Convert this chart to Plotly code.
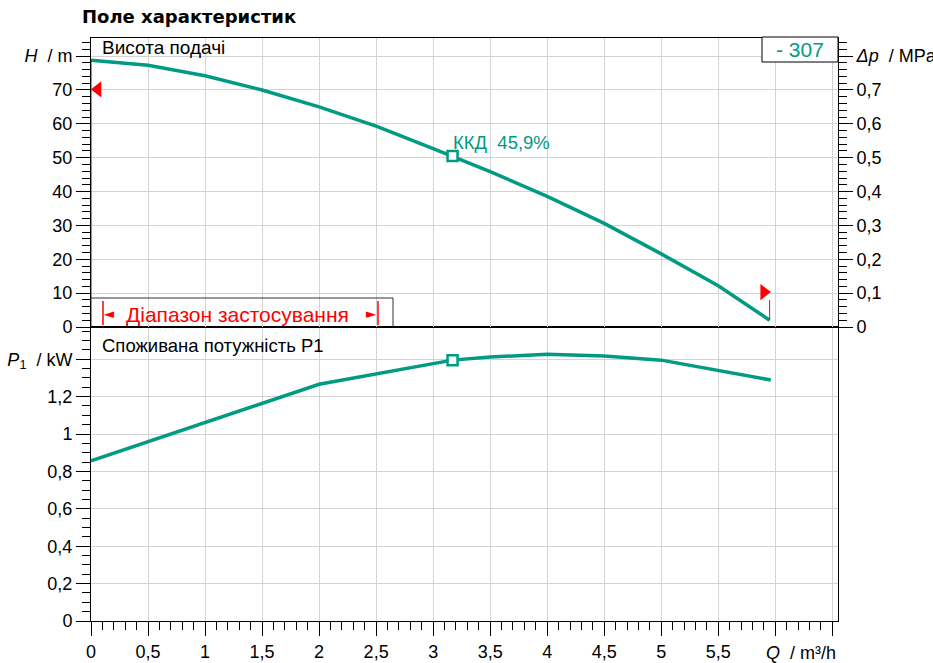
import plotly.graph_objects as go

# ---------------- data ----------------
q_head = [0, 0.5, 1, 1.5, 2, 2.5, 3, 3.5, 4, 4.5, 5, 5.5, 5.95]
head_m = [78.8, 77.3, 74.2, 70.0, 65.0, 59.3, 52.7, 45.9, 38.6, 30.6, 21.6, 12.2, 2.0]

q_power = [0, 2, 3.17, 3.5, 4, 4.5, 5, 5.96]
power_kw = [0.857, 1.266, 1.395, 1.412, 1.426, 1.417, 1.395, 1.289]

q_eff = [3.17]
head_eff = [50.5]
power_eff = [1.395]
eff_label = "ККД\u00a0 45,9%"

limit_left_q = [0.06]
limit_left_h = [70.2]
limit_right_q = [5.9]
limit_right_h = [10.3]
q_max = 5.95

x_tickvals = [0, 0.5, 1, 1.5, 2, 2.5, 3, 3.5, 4, 4.5, 5, 5.5, 6, 6.5]
x_ticktext = ["0", "0,5", "1", "1,5", "2", "2,5", "3", "3,5", "4", "4,5", "5", "5,5", "", ""]
h_tickvals = [0, 10, 20, 30, 40, 50, 60, 70, 80]
h_ticktext = ["0", "10", "20", "30", "40", "50", "60", "70", "<i>H</i>  / m"]
dp_tickvals = [0, 0.1, 0.2, 0.3, 0.4, 0.5, 0.6, 0.7, 0.8]
dp_ticktext = ["0", "0,1", "0,2", "0,3", "0,4", "0,5", "0,6", "0,7", "<i>Δp</i>  / MPa"]
p_tickvals = [0, 0.2, 0.4, 0.6, 0.8, 1.0, 1.2, 1.4]
p_ticktext = ["0", "0,2", "0,4", "0,6", "0,8", "1", "1,2", "<i>P</i><sub>1</sub>  / kW"]

title_text = "Поле характеристик"
head_label = "Висота подачі"
power_label = "Споживана потужність P1"
pump_label = "- 307"
range_label = "Діапазон застосування"

# ---------------- style ----------------
TEAL = "#009b82"
RED = "#ff0000"
GRID = "#d3d3d3"
FONT = "Arial, Liberation Sans, sans-serif"

W, H = 933, 663
L, R, T, B = 91, 95, 38, 42
split_px = 327
plot_h = H - T - B
split = (H - B - split_px) / plot_h

fig = go.Figure()

fig.add_trace(go.Scatter(x=q_head, y=head_m, xaxis="x2", yaxis="y", mode="lines",
                         line=dict(color=TEAL, width=3.5), hoverinfo="skip"))
fig.add_trace(go.Scatter(x=q_power, y=power_kw, xaxis="x", yaxis="y3", mode="lines",
                         line=dict(color=TEAL, width=3.5), hoverinfo="skip"))
# invisible trace for the right axis
fig.add_trace(go.Scatter(x=[0], y=[0], xaxis="x2", yaxis="y2", mode="markers",
                         marker=dict(opacity=0), hoverinfo="skip"))

# range-limit marks
fig.add_trace(go.Scatter(x=[0, 0], y=[0, head_m[0]], xaxis="x2", yaxis="y", mode="lines",
                         line=dict(color="#a00000", width=1), hoverinfo="skip"))
fig.add_trace(go.Scatter(x=[q_max, q_max], y=[head_m[-1], 8], xaxis="x2", yaxis="y", mode="lines",
                         line=dict(color=RED, width=1), hoverinfo="skip"))
fig.add_trace(go.Scatter(x=limit_left_q, y=limit_left_h, xaxis="x2", yaxis="y", mode="markers",
                         marker=dict(symbol="triangle-left", size=14, color=RED), hoverinfo="skip"))
fig.add_trace(go.Scatter(x=limit_right_q, y=limit_right_h, xaxis="x2", yaxis="y", mode="markers",
                         marker=dict(symbol="triangle-right", size=14, color=RED), hoverinfo="skip"))

# efficiency point markers
fig.add_trace(go.Scatter(x=q_eff, y=head_eff, xaxis="x2", yaxis="y", mode="markers",
                         marker=dict(symbol="square", size=10, color="white",
                                     line=dict(color=TEAL, width=2.5)), hoverinfo="skip"))
fig.add_trace(go.Scatter(x=q_eff, y=power_eff, xaxis="x", yaxis="y3", mode="markers",
                         marker=dict(symbol="square", size=10, color="white",
                                     line=dict(color=TEAL, width=2.5)), hoverinfo="skip"))

xr = [0, (W - L - R) / 114.05]
h_top = (split_px - T) / 3.386
p_top = (H - B - split_px) / 187.0

tickfont = dict(family=FONT, size=18, color="black")

def xaxis_common(mirror):
    return dict(range=xr, domain=[0, 1], tickmode="array", tickvals=x_tickvals,
                showgrid=True, gridcolor=GRID, gridwidth=1, zeroline=False, automargin=False,
                showline=True, linecolor="black", linewidth=1, mirror=mirror)

fig.update_layout(
    width=W, height=H, margin=dict(l=L, r=R, t=T, b=B, pad=0, autoexpand=False),
    paper_bgcolor="white", plot_bgcolor="white", showlegend=False,
    font=dict(family=FONT, size=18, color="black"),
    xaxis=dict(**xaxis_common(True), anchor="y3", ticktext=x_ticktext, ticks="outside",
               ticklen=14, tickcolor="black", tickfont=tickfont,
               minor=dict(tickmode="linear", tick0=0, dtick=0.1, ticks="outside",
                          ticklen=8, tickcolor="black", showgrid=False)),
    xaxis2=dict(**xaxis_common(True), anchor="y", matches="x", showticklabels=False, ticks=""),
    yaxis=dict(domain=[split, 1], anchor="x2", range=[0, h_top], tickmode="array",
               tickvals=h_tickvals, ticktext=h_ticktext, ticks="outside", ticklen=14,
               tickcolor="black", tickfont=tickfont, showgrid=True, gridcolor=GRID,
               zeroline=False, showline=True, linecolor="black", linewidth=1, automargin=False,
               minor=dict(tickmode="linear", tick0=0, dtick=2, ticks="outside",
                          ticklen=8, tickcolor="black", showgrid=False)),
    yaxis2=dict(overlaying="y", side="right", anchor="x2", range=[0, h_top / 100],
                tickmode="array", tickvals=dp_tickvals, ticktext=dp_ticktext,
                ticks="outside", ticklen=14, tickcolor="black", tickfont=tickfont,
                showgrid=False, zeroline=False, showline=True, linecolor="black", linewidth=1,
                automargin=False,
                minor=dict(tickmode="linear", tick0=0, dtick=0.02, ticks="outside",
                           ticklen=8, tickcolor="black", showgrid=False)),
    yaxis3=dict(domain=[0, split], anchor="x", range=[0, p_top], tickmode="array",
                tickvals=p_tickvals, ticktext=p_ticktext, ticks="outside", ticklen=14,
                tickcolor="black", tickfont=tickfont, showgrid=True, gridcolor=GRID,
                zeroline=False, showline=True, linecolor="black", linewidth=1, mirror=True,
                automargin=False,
                minor=dict(tickmode="linear", tick0=0, dtick=0.05, ticks="outside",
                           ticklen=8, tickcolor="black", showgrid=False)),
)

def px_x(px):
    return (px - L) / (W - L - R)

def px_y(py):
    return (H - B - py) / plot_h

shapes = [
    # application range box
    dict(type="line", xref="paper", yref="paper", x0=px_x(91), x1=px_x(393),
         y0=px_y(298), y1=px_y(298), line=dict(color="#333333", width=1)),
    dict(type="line", xref="paper", yref="paper", x0=px_x(393), x1=px_x(393),
         y0=px_y(298), y1=px_y(327), line=dict(color="#333333", width=1)),
    dict(type="line", xref="paper", yref="paper", x0=px_x(103), x1=px_x(103),
         y0=px_y(301), y1=px_y(325), line=dict(color=RED, width=1.5)),
    dict(type="line", xref="paper", yref="paper", x0=px_x(378), x1=px_x(378),
         y0=px_y(301), y1=px_y(325), line=dict(color=RED, width=1.5)),
    # pump label box
    dict(type="rect", xref="paper", yref="paper", x0=px_x(762), x1=1,
         y0=px_y(62), y1=px_y(37), line=dict(color="black", width=1), fillcolor="white"),
]
fig.update_layout(shapes=shapes)

annotations = [
    dict(text="<b>" + title_text + "</b>", xref="paper", yref="paper", x=px_x(80), y=px_y(17),
         xanchor="left", yanchor="middle", showarrow=False,
         font=dict(family="DejaVu Sans, Verdana, sans-serif", size=18, color="black")),
    dict(text=head_label, xref="paper", yref="paper", x=px_x(100), y=px_y(47),
         xanchor="left", yanchor="middle", showarrow=False, font=dict(family=FONT, size=19)),
    dict(text=power_label, xref="paper", yref="paper", x=px_x(100), y=px_y(345),
         xanchor="left", yanchor="middle", showarrow=False, font=dict(family=FONT, size=18.5)),
    dict(text=pump_label, xref="paper", yref="paper", x=px_x(800), y=px_y(49.5),
         xanchor="center", yanchor="middle", showarrow=False,
         font=dict(family=FONT, size=21, color=TEAL)),
    dict(text=eff_label, xref="x2", yref="y", x=q_eff[0], y=head_eff[0],
         xanchor="left", yanchor="bottom", xshift=-2, yshift=1, showarrow=False,
         font=dict(family=FONT, size=18.5, color=TEAL)),
    dict(text=range_label, xref="paper", yref="paper", x=px_x(237), y=px_y(314),
         xanchor="center", yanchor="middle", showarrow=False,
         font=dict(family=FONT, size=21, color=RED)),
    dict(text="◄", xref="paper", yref="paper", x=px_x(109), y=px_y(313),
         xanchor="center", yanchor="middle", showarrow=False,
         font=dict(family="DejaVu Sans", size=13, color=RED)),
    dict(text="►", xref="paper", yref="paper", x=px_x(371), y=px_y(313),
         xanchor="center", yanchor="middle", showarrow=False,
         font=dict(family="DejaVu Sans", size=13, color=RED)),
    dict(text="<i>Q</i>  / m³/h", xref="paper", yref="paper", x=1.0, y=px_y(653),
         xanchor="right", yanchor="middle", showarrow=False,
         font=dict(family=FONT, size=18, color="black")),
]
fig.update_layout(annotations=annotations)

fig.write_html("out.html", config={"displayModeBar": False},
               post_script="document.body.style.margin='0px';")
